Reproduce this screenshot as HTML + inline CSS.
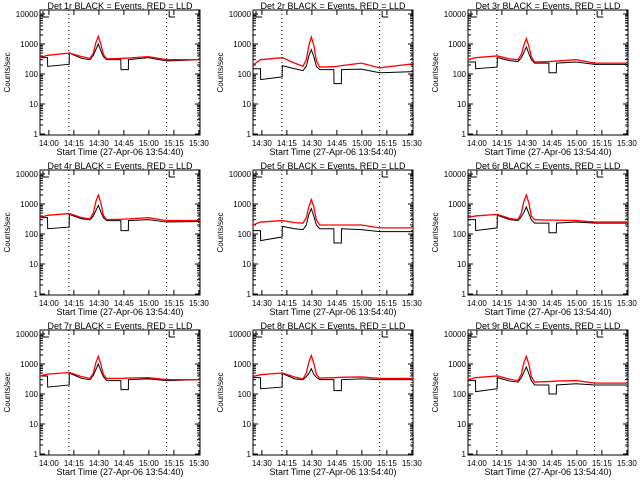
<!DOCTYPE html>
<html><head><meta charset="utf-8"><style>
html,body{margin:0;padding:0;background:#fff;}
svg{display:block;font-family:"Liberation Sans",sans-serif;}
</style></head><body>
<svg id="c" width="640" height="480"></svg>
<script>
const times=[0,4.5,4.6,17.5,17.6,25,30,32,33.5,35,36.5,38,40,48.5,48.6,53,53.1,65,76,96];
const panelTitles=["Det 1r","Det 2r","Det 3r","Det 4r","Det 5r","Det 6r","Det 7r","Det 8r","Det 9r"];
const blackSeries=[
[350,350,180,210,500,330,300,420,650,1000,600,380,300,300,140,140,300,350,270,300],
[150,150,65,80,190,150,130,180,400,650,380,180,140,140,48,48,140,145,110,120],
[250,250,150,170,350,280,260,350,520,800,480,300,230,230,110,110,230,250,210,210],
[350,350,150,170,450,320,300,400,600,900,550,350,280,280,130,130,280,300,250,260],
[130,130,60,80,180,150,140,200,450,700,400,200,150,150,50,50,150,140,120,120],
[300,300,130,160,420,300,280,380,520,800,480,300,230,230,110,110,230,250,230,230],
[400,400,170,200,500,330,300,420,650,1000,600,380,280,280,140,140,300,320,280,300],
[350,350,150,170,480,320,300,380,480,700,450,360,300,300,130,130,300,320,300,300],
[280,280,120,150,350,270,250,350,520,800,480,280,200,200,100,100,200,220,200,200]];
const redSeries=[
[350,420,420,500,500,380,330,500,1100,1800,1000,450,320,330,330,340,340,380,300,300],
[200,300,300,350,350,230,180,300,900,1700,900,280,170,175,175,190,190,230,160,220],
[300,350,350,400,400,320,300,450,900,1500,850,380,250,260,260,270,270,300,230,230],
[350,420,420,480,480,350,320,500,1200,2000,1100,420,300,310,310,320,320,350,280,280],
[200,250,250,280,280,240,230,350,800,1400,800,300,200,200,200,200,200,200,160,160],
[350,400,400,450,450,330,300,500,1200,2000,1100,400,300,290,290,290,290,280,250,250],
[400,460,460,520,520,380,330,500,1100,1800,1000,450,330,330,330,340,340,350,300,300],
[380,440,440,500,500,370,320,500,1150,1900,1050,450,340,350,350,360,360,370,330,330],
[300,350,350,400,400,310,280,450,1100,1800,1000,380,250,260,260,270,270,280,230,230]];
const xTickLabels=["14:00","14:15","14:30","14:45","15:00","15:15","15:30"];
const xTickLabelsAlt=["14:30","14:15","14:30","14:45","15:00","15:15","15:30"];
const xTickMins=[5.333,20.333,35.333,50.333,65.333,80.333,95.333];
const yTickVals=[1,10,100,1000,10000];
const yTickLabels=["1","10","100","1000","10000"];
const dottedMins=[17.3,76,95.3];

const NS="http://www.w3.org/2000/svg";
const svg=document.getElementById('c');
function mk(tag,attrs,parent){const e=document.createElementNS(NS,tag);for(const k in attrs)e.setAttribute(k,attrs[k]);(parent||svg).appendChild(e);return e;}
const W=160,H=125,TMAX=96;
for(let p=0;p<9;p++){
  const ox=40+[0,213,428][p%3], oy=10+160*Math.floor(p/3);
  const g=mk('g',{});
  
  
  const xs=t=>ox+t/TMAX*W;
  const ys=v=>oy+124-Math.log10(v)*30;
  const box=mk('rect',{x:ox,y:oy,width:W,height:H,fill:'none',stroke:'#000','stroke-width':1},g);
  
  
  for(let d=0;d<5;d++){
    for(let m=1;m<10;m++){
      const v=Math.pow(10,d)*m; if(v>13000)break;
      const y=ys(v); if(y<oy)continue;
      const len=m===1?5:3;
      mk('line',{x1:ox,x2:ox+len,y1:y,y2:y,stroke:'#000'},g);
      mk('line',{x1:ox+W,x2:ox+W-len,y1:y,y2:y,stroke:'#000'},g);
    }
  }
  yTickVals.forEach((v,i)=>{
    const t=mk('text',{x:ox-2,y:ys(v)+3,'font-size':8,'text-anchor':'end'},g);
    t.textContent=yTickLabels[i];
    
    
  });
  const labs=(p%3===1)?xTickLabelsAlt:xTickLabels;
  xTickMins.forEach((m,i)=>{
    const x=xs(m);
    mk('line',{x1:x,x2:x,y1:oy+H,y2:oy+H-5,stroke:'#000'},g);
    mk('line',{x1:x,x2:x,y1:oy,y2:oy+5,stroke:'#000'},g);
    const t=mk('text',{x:x,y:oy+H+11,'font-size':8,'text-anchor':'middle'},g);
    t.textContent=labs[i];
    
    
  });
  dottedMins.forEach(m=>{
    const l=mk('line',{x1:xs(m),x2:xs(m),y1:oy,y2:oy+H,stroke:'#000','stroke-dasharray':'1,3'},g);
    
    
  });
  mk('path',{d:`M${ox+3} ${oy+7}V${oy+1}M${ox+3} ${oy+7}H${ox+9}M${xs(77.5)} ${oy+7}V${oy+1}M${xs(77.5)} ${oy+7}H${xs(77.5)+6}`,fill:'none',stroke:'#000'},g);
  const ttl=mk('text',{x:ox+W/2,y:oy-1,'font-size':9,'text-anchor':'middle'},g);
  ttl.textContent=panelTitles[p]+" BLACK = Events, RED = LLD";
  
  
  const xt=mk('text',{x:ox+W/2,y:oy+H+20,'font-size':9,'text-anchor':'middle'},g);
  xt.textContent="Start Time (27-Apr-06 13:54:40)";
  
  
  const yt=mk('text',{x:0,y:0,'font-size':8,'text-anchor':'middle',transform:`translate(${ox-30},${oy+H/2}) rotate(-90)`},g);
  yt.textContent="Counts/sec";
  
  
  const bl=mk('polyline',{points:times.map((t,i)=>xs(t)+','+ys(blackSeries[p][i])).join(' '),fill:'none',stroke:'#000','stroke-width':1},g);
  
  
  const rl=mk('polyline',{points:times.map((t,i)=>xs(t)+','+ys(redSeries[p][i])).join(' '),fill:'none',stroke:'#f00','stroke-width':1.3},g);
  
  
}
</script>
</body></html>
